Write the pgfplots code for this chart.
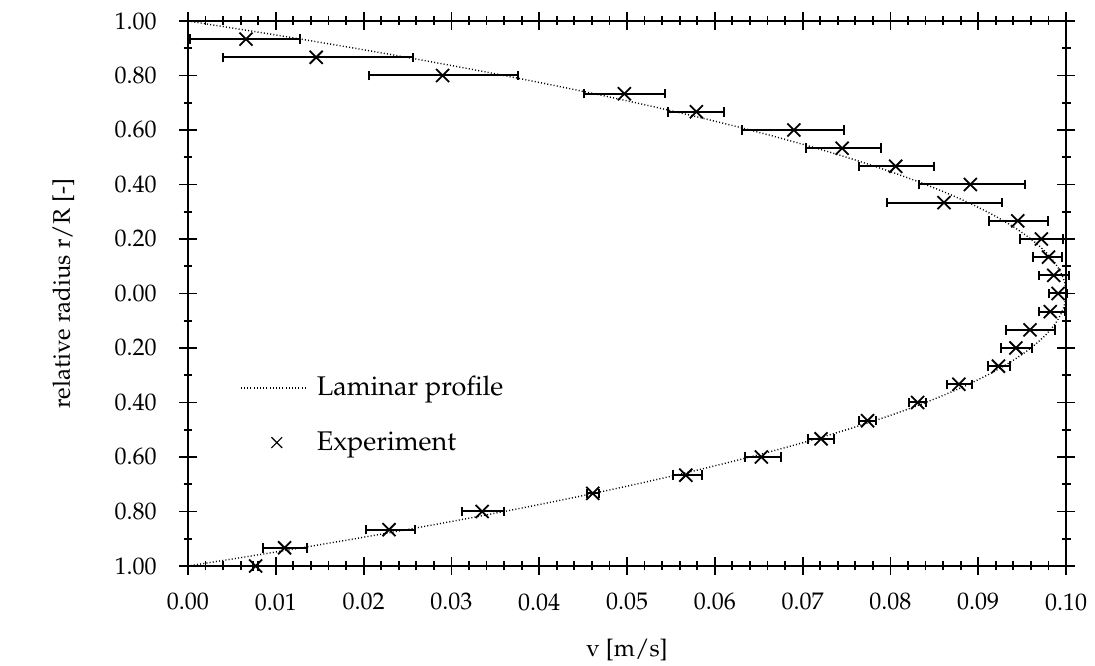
\documentclass[border=0pt]{standalone}
\usepackage[T1]{fontenc}
\usepackage{mathpazo}
\usepackage{pgfplots}
\usepackage{pgfplotstable}
\pgfplotsset{compat=1.18}
\pgfplotsset{
  lamleg/.style={legend image code/.code={\path[draw=none] (0pt,0pt) -- (36pt,0pt); \draw[##1] (0pt,0pt) -- (32.5pt,0pt);}},
  expleg/.style={legend image code/.code={\path[draw=none] (0pt,0pt) -- (36pt,0pt); \draw[##1, mark size=3.8pt, line width=0.6pt] plot coordinates {(18pt,0pt)};}},
}

\pgfplotstableread{
x       y        em      ep
0.0066  0.9333   0.0064  0.0062
0.0146  0.8667   0.0106  0.0110
0.0290  0.8000   0.0084  0.0086
0.0497  0.7333   0.0046  0.0046
0.0579  0.6667   0.0032  0.0032
0.0690  0.6000   0.0059  0.0057
0.0745  0.5333   0.0041  0.0044
0.0806  0.4667   0.0042  0.0044
0.0891  0.4000   0.0059  0.0062
0.0861  0.3333   0.0065  0.0066
0.0945  0.2667   0.0033  0.0034
0.0972  0.2000   0.0024  0.0025
0.0980  0.1333   0.0018  0.0015
0.0986  0.0667   0.0017  0.0017
0.0991  0.0000   0.0010  0.0010
0.0982 -0.0667   0.0013  0.0017
0.0959 -0.1333   0.0027  0.0028
0.0943 -0.2000   0.0017  0.0018
0.0923 -0.2667   0.0012  0.0013
0.0878 -0.3333   0.0014  0.0015
0.0831 -0.4000   0.0010  0.0010
0.0774 -0.4667   0.0010  0.0010
0.0721 -0.5333   0.0015  0.0015
0.0653 -0.6000   0.0019  0.0022
0.0567 -0.6667   0.0015  0.0018
0.0461 -0.7333   0.0007  0.0007
0.0335 -0.8000   0.0023  0.0025
0.0229 -0.8667   0.0026  0.0029
0.0110 -0.9333   0.0025  0.0025
0.0077 -1.0000   0.0003  0.0003
}\expdata

\pgfplotstableread{
x        y
0.0      1.00
0.00975  0.95
0.019    0.90
0.02775  0.85
0.036    0.80
0.04375  0.75
0.051    0.70
0.05775  0.65
0.064    0.60
0.06975  0.55
0.075    0.50
0.07975  0.45
0.084    0.40
0.08775  0.35
0.091    0.30
0.09375  0.25
0.096    0.20
0.09775  0.15
0.099    0.10
0.09975  0.05
0.1      0.00
0.09975 -0.05
0.099   -0.10
0.09775 -0.15
0.096   -0.20
0.09375 -0.25
0.091   -0.30
0.08775 -0.35
0.084   -0.40
0.07975 -0.45
0.075   -0.50
0.06975 -0.55
0.064   -0.60
0.05775 -0.65
0.051   -0.70
0.04375 -0.75
0.036   -0.80
0.02775 -0.85
0.019   -0.90
0.00975 -0.95
0.0     -1.00
}\lamdata

\begin{document}
\fontsize{12}{14}\selectfont
\begin{tikzpicture}
\begin{axis}[
  name=ax,
  scale only axis,
  width=439pt, height=272.5pt,
  xmin=0, xmax=0.1, ymin=-1, ymax=1,
  xtick={0,0.01,...,0.1},
  ytick={-1,-0.8,...,1},
  minor x tick num=4,
  minor y tick num=1,
  tick align=center,
  major tick length=9pt,
  minor tick length=4.5pt,
  axis line style={line width=1.1pt},
  every tick/.style={line width=0.9pt, black},
  scaled x ticks=false,
  xticklabel style={yshift=-5pt, /pgf/number format/fixed, /pgf/number format/fixed zerofill, /pgf/number format/precision=2},
  yticklabel style={xshift=-7pt},
  yticklabel={\pgfmathparse{abs(\tick)}\pgfmathprintnumber[fixed,fixed zerofill,precision=2]{\pgfmathresult}},
  tick label style={font=\fontsize{12}{14}\selectfont},
  label style={font=\fontsize{12}{14}\selectfont},
  xlabel={v [m/s]},
  ylabel={relative radius r/R [-]},
  xlabel style={at={(axis description cs:0.5,-0.154)}, anchor=center},
  ylabel style={at={(axis description cs:-0.142,0.5)}, anchor=center},
  clip=false,
  legend style={at={(0.052,0.277)}, anchor=west, draw=none, fill=none,
    font=\fontsize{13.5}{15}\selectfont, row sep=12pt},
  legend cell align=left,
]
\addplot[black, line width=0.7pt, dash pattern=on 0.5pt off 1.1pt, smooth, lamleg] table[x=x,y=y] {\lamdata};
\addlegendentry{Laminar profile}
\addplot[black, only marks, mark=x, mark size=4.6pt, line width=0.9pt, expleg,
  error bars/.cd, x dir=both, x explicit,
  error bar style={line width=1pt},
  error mark options={rotate=90, mark size=2.4pt, line width=1pt}]
  table[x=x, y=y, x error plus=ep, x error minus=em] {\expdata};
\addlegendentry{Experiment}
\end{axis}
\pgfresetboundingbox
\path[use as bounding box] ([shift={(-94pt,-50pt)}]ax.south west) rectangle ([shift={(14.5pt,10.5pt)}]ax.north east);
\end{tikzpicture}
\end{document}
